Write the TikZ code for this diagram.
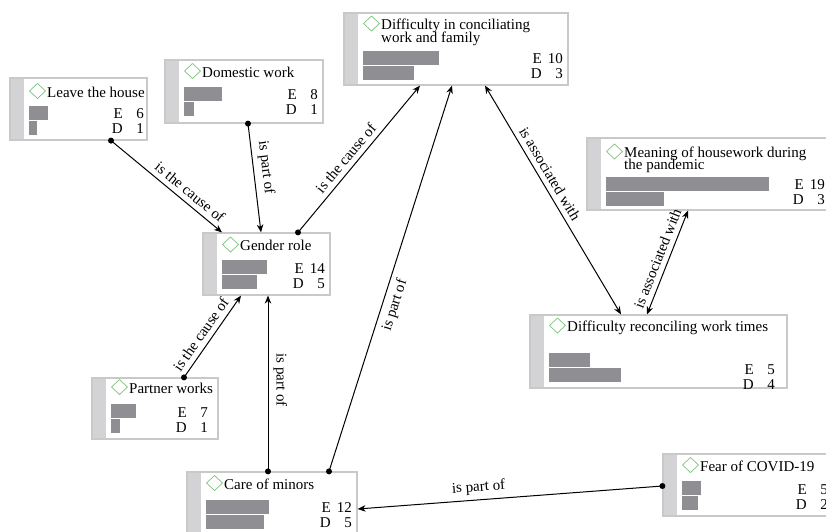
\documentclass[tikz,border=0pt]{standalone}
\usepackage{fontspec}
\setmainfont{Liberation Serif}
\usetikzlibrary{arrows.meta,fit,calc}
\definecolor{framegray}{HTML}{C9C9C9}
\definecolor{sidegray}{HTML}{D3D3D5}
\definecolor{bargray}{HTML}{8E8E93}
\definecolor{diamgreen}{HTML}{7CC47C}
\tikzset{
  txt/.style={font=\fontsize{15}{15}\selectfont, inner sep=0pt},
  conn/.style={line width=1pt, draw=black},
  tipend/.style={-{Stealth[length=8pt,width=6.5pt]}},
  tipstart/.style={{Stealth[length=8pt,width=6.5pt]}-},
  tipboth/.style={{Stealth[length=8pt,width=6.5pt]}-{Stealth[length=8pt,width=6.5pt]}},
  dotn/.style={circle, fill=black, inner sep=0pt, minimum size=6pt},
  lab/.style={font=\fontsize{15}{15}\selectfont, inner sep=1pt, sloped, above=4pt},
  labb/.style={font=\fontsize{15}{15}\selectfont, inner sep=1pt, sloped, below=4pt},
}
% frame: name, L, T, R, B
\newcommand\cframe[5]{%
  \fill[white] (#2,#3) rectangle (#4,#5);
  \fill[sidegray] (#2,#3) rectangle (#2+14,#5);
  \node[inner sep=0pt, fit={(#2,#3) (#4,#5)}, draw=framegray, line width=1.2pt] (#1) {};
}
% title: name, L, baseline, text
\newcommand\ctitle[4]{%
  \draw[diamgreen, line width=0.7pt] (#2+27.5,#3-13.5) -- (#2+35.5,#3-6) -- (#2+27.5,#3+1.5) -- (#2+19.5,#3-6) -- cycle;
  \node[txt, anchor=base west] (#1-t) at (#2+37,#3) {#4};
}
% second title line: name, L, baseline, text
\newcommand\ctitleb[4]{%
  \node[txt, anchor=base west] (#1-t2) at (#2+37,#3) {#4};
}
% bars: name, L, barTop, w1, w2, E, D, Nright, Ebase
\newcommand\cbars[9]{%
  \fill[bargray] (#2+19,#3) rectangle (#2+19+#4,#3+13.5);
  \fill[bargray] (#2+19,#3+15) rectangle (#2+19+#5,#3+28.5);
  \node[txt, anchor=base east] (#1-e) at (#8-21,#9) {E};
  \node[txt, anchor=base east] (#1-en) at (#8,#9) {#6};
  \node[txt, anchor=base east] (#1-d) at (#8-21,#9+15) {D};
  \node[txt, anchor=base east] (#1-dn) at (#8,#9+15) {#7};
}
\begin{document}
\begin{tikzpicture}[x=1pt, y=-1pt]
\useasboundingbox (0,0) rectangle (826,531);
\fill[white] (0,0) rectangle (826,531);
\clip (0,0) rectangle (826,531);

% boxes
\cframe{leave}{10}{78}{147}{140}
\ctitle{leave}{10}{97}{Leave the house}
\cbars{leave}{10}{106}{19}{8}{6}{1}{144}{118}

\cframe{domestic}{165}{60}{323}{123}
\ctitle{domestic}{165}{77}{Domestic work}
\cbars{domestic}{165}{87}{38}{10}{8}{1}{318}{99}

\cframe{diffa}{344}{13}{568}{85}
\ctitle{diffa}{344}{29.5}{Difficulty in conciliating}
\ctitleb{diffa}{344}{42}{work and family}
\cbars{diffa}{344}{51}{76}{51}{10}{3}{563}{63.5}

\cframe{meaning}{587}{138}{830}{210}
\ctitle{meaning}{587}{157.5}{Meaning of housework during}
\ctitleb{meaning}{587}{169.5}{the pandemic}
\cbars{meaning}{587}{177}{163}{58}{19}{3}{825}{189}

\cframe{diffb}{530}{315}{787}{388}
\ctitle{diffb}{530}{331.5}{Difficulty reconciling work times}
\cbars{diffb}{530}{353}{41}{72}{5}{4}{775}{374}

\cframe{gender}{203}{233}{330}{295}
\ctitle{gender}{203}{250.5}{Gender role}
\cbars{gender}{203}{260}{45}{35}{14}{5}{325}{273}

\cframe{partner}{92}{378}{218}{439}
\ctitle{partner}{92}{393}{Partner works}
\cbars{partner}{92}{404}{25}{9}{7}{1}{208}{417}

\cframe{care}{187}{472}{357}{540}
\ctitle{care}{187}{489}{Care of minors}
\cbars{care}{187}{500}{63}{58}{12}{5}{352}{512.5}

\cframe{fear}{663}{454}{835}{516}
\ctitle{fear}{663}{471}{Fear of COVID-19}
\cbars{fear}{663}{481}{19}{16}{5}{2}{828}{494}

% connectors
\draw[conn, tipend] (111,0 |- leave.south) node[dotn] (da) {} -- (222,0 |- gender.north)
  node[lab, pos=0.65] (la) {is the cause of};
\draw[conn, tipend] (248,0 |- domestic.south) node[dotn] (db) {} -- (261,0 |- gender.north)
  node[lab, pos=0.42] (lb) {is part of};
\draw[conn, tipend] (298,0 |- gender.north) node[dotn] (dc) {} -- (420,0 |- diffa.south)
  node[lab, pos=0.46] (lc) {is the cause of};
\draw[conn, tipstart] (268,0 |- gender.south) -- (268,0 |- care.north) node[dotn] (dd) {}
  node[lab, pos=0.48, allow upside down] (ld) {is part of};
\draw[conn, tipstart] (452,0 |- diffa.south) -- (329,0 |- care.north) node[dotn] (de) {}
  node[labb, pos=0.56] (le) {is part of};
\draw[conn, tipboth] (485,0 |- diffa.south) -- (621,0 |- diffb.north)
  node[lab, pos=0.41] (lf) {is associated with};
\draw[conn, tipboth] (647,0 |- diffb.north) -- (688,0 |- meaning.south)
  node[lab, pos=0.5] (lg) {is associated with};
\draw[conn, tipend] (184,0 |- partner.north) node[dotn] (dh) {} -- (241,0 |- gender.south)
  node[lab, pos=0.45] (lh) {is the cause of};
\draw[conn, tipend] (fear.west |- 0,486) node[dotn] (di) {} -- (care.east |- 0,509)
  node[lab, pos=0.6] (li) {is part of};
\end{tikzpicture}
\end{document}
